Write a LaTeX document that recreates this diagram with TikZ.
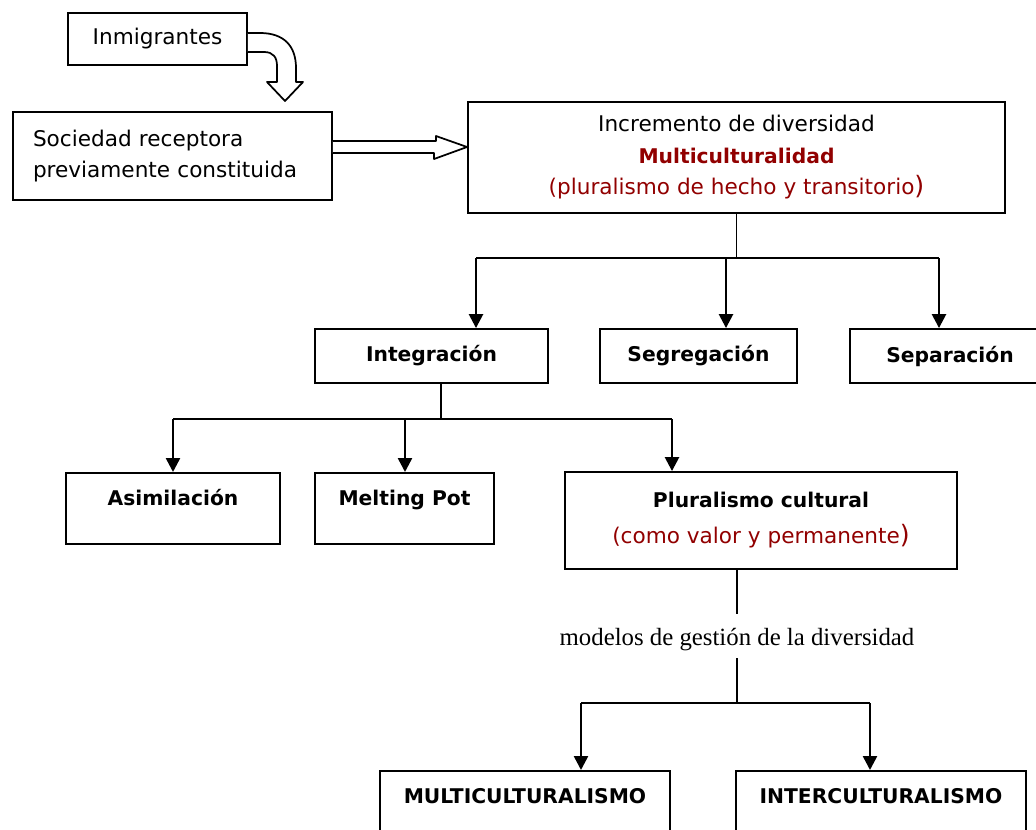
\documentclass[tikz,border=0pt]{standalone}
\usepackage{fontspec}
\setsansfont{DejaVu Sans}
\newfontfamily\modelfont{Liberation Serif}
\usetikzlibrary{arrows.meta,calc}
\definecolor{darkred}{RGB}{145,0,0}

\begin{document}
\begin{tikzpicture}[x=0.75pt, y=-0.75pt,
    every node/.style={font=\sffamily\fontsize{16.2}{23.6}\selectfont},
    box/.style={draw, line width=1.4pt, inner sep=0pt, align=center},
    bbox/.style={box, font=\sffamily\bfseries\fontsize{15.2}{23.6}\selectfont},
    topbox/.style={bbox, text height=24.75pt, text depth=28.5pt, anchor=north},
    arr/.style={-{Triangle[length=10.5pt,width=10.5pt]}, line width=1.9pt},
    bar/.style={line width=1.9pt},
    stem/.style={line width=1pt},
    hollow/.style={line width=1.3pt, fill=white, line join=round}
  ]
    \useasboundingbox (0,0) rectangle (1036,829);

    % top: who arrives and who receives
    \node[box, minimum width=134.25pt, minimum height=39pt] (inm) at (157.5,39) {Inmigrantes};
    \node[box, minimum width=239.25pt, minimum height=66pt, text width=209.25pt, align=left] (soc) at (172.5,156)
      {Sociedad receptora\\previamente constituida};
    \node[box, minimum width=402.75pt, minimum height=83.25pt] (inc) at (736.5,157.5)
      {Incremento de diversidad\\
       {\bfseries\fontsize{15.2}{23.6}\selectfont\color{darkred}Multiculturalidad}\\
       {\color{darkred}(pluralismo de hecho y transitorio{\fontsize{19}{23.6}\selectfont)}}};

    % responses
    \node[bbox, minimum width=174.75pt, minimum height=40.5pt] (integ) at (431.5,356) {Integración};
    \node[bbox, minimum width=147.75pt, minimum height=40.5pt] (segr) at (698.5,356) {Segregación};
    \node[bbox, minimum width=150pt, minimum height=40.5pt] (sepa) at (950,356) {Separación};

    % kinds of integration
    \node[topbox, minimum width=160.5pt] (asim) at (173,472) {Asimilación};
    \node[topbox, minimum width=134.25pt] (melt) at (404.5,472) {Melting Pot};
    \node[box, minimum width=294pt, minimum height=72.75pt, font=\sffamily\fontsize{16.2}{27}\selectfont] (plural) at (761,520.5)
      {{\bfseries\fontsize{15.2}{27}\selectfont Pluralismo cultural}\\
       {\color{darkred}(como valor y permanente{\fontsize{19}{27}\selectfont)}}};

    \node[font=\modelfont\fontsize{18.6}{22}\selectfont] (mod) at (737,640) {modelos de gestión de la diversidad};

    \node[topbox, minimum width=217.5pt] (multi) at (525,770) {MULTICULTURALISMO};
    \node[topbox, minimum width=217.5pt] (inter) at (881,770) {INTERCULTURALISMO};

    % hollow arrows
    \draw[hollow] (inm.east |- 0,33) -- (260,33) .. controls (284,33) and (296,46) .. (296,68) -- (296,82)
      -- (303,82) -- (285,101) -- (267,82) -- (277,82) -- (277,66)
      .. controls (277,57) and (273,52) .. (264,52) -- (inm.east |- 0,52);
    \draw[hollow] (soc.east |- 0,141) -- ++(103,0) -- ++(0,-5) -- (inc.west |- 0,147)
      -- ++(-33,12) -- ++(0,-6) -- (soc.east |- 0,153);

    % first branching
    \draw[stem] (inc.south) -- ++(0,45);
    \coordinate (b1) at (476,258);
    \coordinate (b2) at (726,258);
    \coordinate (b3) at (939,258);
    \draw[bar] (b1) -- (b3);
    \draw[arr] (b1) -- (b1 |- integ.north);
    \draw[arr] (b2) -- (b2 |- segr.north);
    \draw[arr] (b3) -- (b3 |- sepa.north);

    % second branching
    \coordinate (c1) at (173,419);
    \coordinate (c2) at (405,419);
    \coordinate (c3) at (672,419);
    \draw[stem] (441,0 |- integ.south) -- (441,419);
    \draw[bar] (c1) -- (c3);
    \draw[arr] (c1) -- (asim.north);
    \draw[arr] (c2) -- (c2 |- melt.north);
    \draw[arr] (c3) -- (c3 |- plural.north);

    % models
    \coordinate (d1) at (581,703);
    \coordinate (d2) at (870,703);
    \draw[stem] (plural.south -| mod) -- ++(0,44);
    \draw[stem] (mod.center |- 0,658) -- (mod.center |- d1);
    \draw[bar] (d1) -- (d2);
    \draw[arr] (d1) -- (d1 |- multi.north);
    \draw[arr] (d2) -- (d2 |- inter.north);
\end{tikzpicture}
\end{document}
